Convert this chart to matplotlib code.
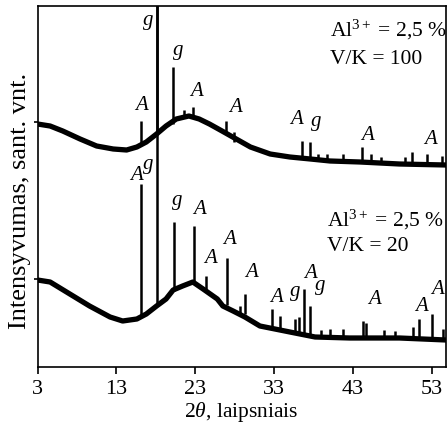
import matplotlib
matplotlib.use("Agg")
import matplotlib.pyplot as plt

plt.rcParams['font.family'] = ['Liberation Serif', 'DejaVu Serif']
plt.rcParams['mathtext.fontset'] = 'custom'
plt.rcParams['mathtext.rm'] = 'Liberation Serif'
plt.rcParams['mathtext.it'] = 'Liberation Serif:italic'

# ---- upper pattern (V/K = 100): broad background ----
up_x = [3.0, 4.6, 6.2, 8.4, 10.5, 12.6, 14.3, 15.6, 16.8, 18.1, 19.3, 20.6, 22.2,
        23.5, 24.8, 26.4, 28.2, 30.0, 32.5, 35.0, 37.6, 40.1, 43.9, 48.9, 54.8]
up_y = [243, 241, 236, 228, 221, 218, 217, 220, 225, 233, 241, 248, 251,
        248, 243, 236, 228, 220, 213, 210, 208, 206, 205, 203, 202]
# peaks: position, base, top
up_pk_x = [16.1, 18.2, 20.2, 21.6, 22.7, 26.9, 27.9, 36.5, 37.6, 38.6, 39.7, 41.8, 44.2,
           45.3, 46.6, 49.6, 50.5, 52.4, 54.3]
up_pk_b = [222, 233, 243, 249, 251, 235, 225, 208, 208, 207, 207, 206, 205,
           205, 204, 203, 203, 203, 202]
up_pk_t = [246, 400, 300, 257, 260, 246, 235, 226, 225, 213, 213, 213, 220,
           213, 210, 210, 215, 213, 211]

# ---- lower pattern (V/K = 20) ----
lo_x = [3.0, 4.6, 7.1, 9.6, 12.2, 13.8, 15.6, 16.8, 18.1, 19.3, 20.2, 21.4, 22.7,
        24.0, 25.8, 26.5, 27.8, 29.3, 31.2, 35.0, 38.2, 42.6, 48.9, 54.8]
lo_y = [87, 85, 73, 61, 50, 46, 48, 53, 61, 68, 77, 81, 85,
        78, 68, 61, 56, 50, 41, 35, 30, 29, 29, 27]
lo_pk_x = [16.1, 18.2, 20.3, 22.9, 24.4, 27.0, 28.7, 29.3, 32.7, 33.8, 35.7, 36.1, 36.8,
           37.6, 39.0, 40.1, 41.7, 44.3, 44.6, 46.9, 48.3, 50.6, 51.4, 53.0, 54.4]
lo_pk_b = [50, 61, 76, 85, 78, 62, 54, 53, 40, 38, 35, 35, 34,
           33, 31, 30, 30, 30, 30, 29, 29, 29, 29, 29, 28]
lo_pk_t = [183, 400, 145, 141, 91, 109, 61, 73, 58, 51, 48, 50, 78,
           61, 37, 38, 38, 46, 44, 37, 36, 40, 48, 53, 38]

# ---- phase labels ----
up_lab = ['g', 'g', 'A', 'A', 'A', 'A', 'g', 'A', 'A']
up_lab_x = [17.0, 20.8, 16.2, 23.2, 28.1, 35.9, 38.3, 44.9, 52.8]
up_lab_y = [347, 317, 262, 276, 261, 248, 246, 232, 228]
lo_lab = ['A', 'g', 'g', 'A', 'A', 'A', 'A', 'A', 'g', 'A', 'g', 'A', 'A', 'A']
lo_lab_x = [15.5, 17.0, 20.7, 23.6, 24.9, 27.4, 30.1, 33.3, 35.7, 37.6, 38.8, 45.7, 51.7, 53.7]
lo_lab_y = [192, 203, 167, 158, 109, 128, 95, 70, 76, 94, 82, 68, 61, 78]

xticks = [3, 13, 23, 33, 43, 53]

fig = plt.figure(figsize=(4.48, 4.35), dpi=100)
ax = fig.add_axes([37.5 / 448, 67 / 435, 408.5 / 448, 361 / 435])

ax.plot(up_x, up_y, color='black', lw=3.8, solid_joinstyle='round')
ax.vlines(up_pk_x, up_pk_b, up_pk_t, color='black', lw=1.8)
ax.plot(lo_x, lo_y, color='black', lw=3.8, solid_joinstyle='round')
ax.vlines(lo_pk_x, lo_pk_b, lo_pk_t, color='black', lw=1.8)

for t, x, y in zip(up_lab, up_lab_x, up_lab_y):
    ax.text(x, y, t, style='italic', fontsize=15, ha='center', va='center')
for t, x, y in zip(lo_lab, lo_lab_x, lo_lab_y):
    ax.text(x, y, t, style='italic', fontsize=15, ha='center', va='center')

ax.text(40.1, 338, r'Al$^{3+}$ = 2,5 %', fontsize=15.5, ha='left', va='center')
ax.text(40.1, 308, 'V/K = 100', fontsize=15.5, ha='left', va='center')
ax.text(39.7, 148, r'Al$^{3+}$ = 2,5 %', fontsize=15.5, ha='left', va='center')
ax.text(39.7, 121, 'V/K = 20', fontsize=15.5, ha='left', va='center')

ax.set_xlim(3, 54.8)
ax.set_ylim(0, 361)
ax.set_xticks(xticks)
ax.set_xticklabels([str(v) for v in xticks], fontsize=16)
ax.set_yticks([88, 245])
ax.set_yticklabels(['', ''])
ax.tick_params(axis='both', direction='out', length=5, width=1.2, color='black')
ax.tick_params(axis='y', length=3)
for s in ax.spines.values():
    s.set_linewidth(1.2)
ax.set_xlabel(r'2$\it{\theta}$, laipsniais', fontsize=15.5, labelpad=1)
ax.set_ylabel('Intensyvumas, sant. vnt.', fontsize=19)
ax.yaxis.set_label_coords(-0.017, 0.463)

fig.savefig('out.png', dpi=100)
